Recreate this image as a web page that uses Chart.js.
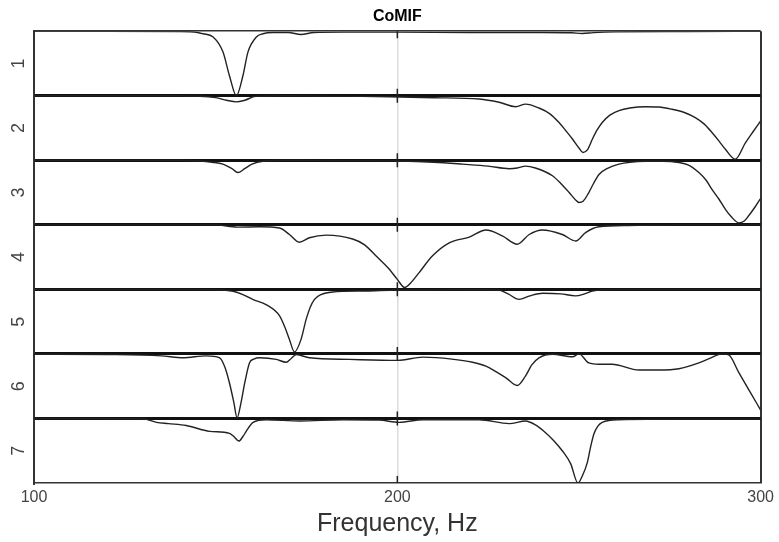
<!DOCTYPE html>
<html>
<head>
<meta charset="utf-8">
<script src="https://cdn.jsdelivr.net/npm/chart.js@4.4.1/dist/chart.umd.min.js"></script>
<style>
  body { margin: 0; background: #fff; }
  canvas { display: block; }
</style>
</head>
<body>
<canvas id="comif" width="779" height="542"></canvas>
<script>
// CoMIF curves, one per panel (frequency in Hz, normalised magnitude 0..1 inside the panel)
const freq1 = [100, 120, 140, 145, 146.5, 149.3, 152, 153.8, 155.7, 157.5, 158.9, 161.2, 163, 165.7, 170, 173.5, 177, 185, 200, 220, 240, 248, 250.9, 254, 260, 280, 300];
const mag1 = [1, 1, 0.995, 0.98, 0.96, 0.91, 0.68, 0.31, 0, 0.31, 0.68, 0.91, 0.96, 0.98, 0.98, 0.95, 0.98, 0.985, 0.985, 0.98, 0.98, 0.975, 0.965, 0.978, 0.99, 0.995, 1];

const freq2 = [100, 140, 150, 153, 155.7, 158, 161, 170, 190, 200.5, 210, 222.5, 228, 232.6, 235.3, 239, 242, 244.5, 246.5, 248.2, 250, 251.1, 252.3, 253.7, 255, 256.4, 258.5, 261, 264, 268.3, 272, 275.6, 279, 282, 284.5, 286.6, 288.5, 290.3, 293, 295.8, 298, 300];
const mag2 = [1, 1, 0.97, 0.93, 0.905, 0.93, 0.99, 1, 0.99, 0.98, 0.97, 0.95, 0.9, 0.83, 0.87, 0.81, 0.72, 0.585, 0.45, 0.33, 0.19, 0.12, 0.16, 0.33, 0.47, 0.585, 0.7, 0.77, 0.81, 0.83, 0.825, 0.79, 0.74, 0.66, 0.56, 0.43, 0.3, 0.17, 0.015, 0.27, 0.45, 0.61];

const freq3 = [100, 140, 145.6, 149, 152, 154.5, 156.1, 158, 160, 163, 170, 190, 200.5, 210, 218, 225, 230.8, 233, 235.3, 238, 242.7, 245, 247.3, 249, 250, 251.2, 252.7, 254, 255.5, 258, 261, 264, 268.3, 273, 277.5, 280, 283, 285, 286.6, 288.5, 290.3, 292, 294, 295.5, 296.7, 298.5, 300];
const mag3 = [1, 1, 0.99, 0.97, 0.94, 0.87, 0.81, 0.87, 0.94, 0.985, 1, 0.995, 0.99, 0.97, 0.94, 0.91, 0.87, 0.88, 0.91, 0.88, 0.76, 0.64, 0.5, 0.39, 0.345, 0.37, 0.5, 0.64, 0.78, 0.88, 0.94, 0.97, 0.985, 0.985, 0.965, 0.93, 0.81, 0.69, 0.55, 0.4, 0.24, 0.12, 0.03, 0.06, 0.14, 0.28, 0.41];

const freq4 = [100, 150, 156, 162, 167.6, 170.3, 173, 175.8, 180.4, 187.7, 191, 194.1, 197.5, 200, 202, 204, 206, 209.7, 214.3, 219.8, 224.4, 228.9, 233, 236.3, 239.9, 245.4, 249.1, 251.8, 255.5, 263.7, 280, 300];
const mag4 = [1, 1, 0.965, 0.97, 0.95, 0.85, 0.73, 0.8, 0.84, 0.78, 0.69, 0.52, 0.33, 0.155, 0.03, 0.12, 0.26, 0.52, 0.72, 0.81, 0.92, 0.83, 0.7, 0.85, 0.92, 0.85, 0.75, 0.88, 0.97, 0.99, 1, 1];

const freq5 = [100, 140, 150, 154.8, 157.5, 160.2, 164, 167.6, 169, 170.3, 171.7, 173.5, 174.9, 176, 177.2, 179, 182.2, 191.4, 200, 225, 228, 230.5, 233.5, 236.5, 240, 245, 249, 251.5, 253.7, 260, 300];
const mag5 = [1, 1, 0.995, 0.97, 0.92, 0.845, 0.76, 0.59, 0.42, 0.225, 0.03, 0.225, 0.535, 0.72, 0.845, 0.92, 0.96, 0.975, 0.99, 0.995, 0.99, 0.93, 0.845, 0.9, 0.94, 0.93, 0.9, 0.93, 0.975, 1, 1];

const freq6 = [100, 120, 135, 141, 147.4, 151.1, 152.5, 153.8, 155, 155.9, 157, 158, 159.3, 160.5, 162.1, 166.7, 169.4, 170.8, 172.2, 175.8, 186.8, 200.1, 207, 215, 220.7, 224.4, 227, 229.9, 233, 235.3, 237, 239, 242.7, 248.2, 250, 252.7, 255.5, 259.1, 266.5, 272, 277.5, 283, 286, 289.4, 291.2, 294, 297.2, 300];
const mag6 = [0.995, 0.99, 0.97, 0.94, 0.97, 0.94, 0.8, 0.55, 0.25, 0.01, 0.25, 0.55, 0.86, 0.92, 0.94, 0.915, 0.87, 0.93, 0.99, 0.94, 0.915, 0.9, 0.95, 0.92, 0.87, 0.81, 0.73, 0.63, 0.51, 0.66, 0.83, 0.94, 0.995, 0.955, 1, 0.86, 0.84, 0.84, 0.75, 0.75, 0.77, 0.86, 0.93, 1, 0.985, 0.71, 0.4, 0.13];

const freq7 = [100, 130, 133.7, 137, 141.9, 148.4, 153.8, 155, 156.4, 157.5, 158.4, 160.3, 163.9, 173.1, 185, 195, 200.5, 207, 222.5, 230.8, 235.3, 238, 240.8, 243, 245.4, 247.7, 249.7, 251, 252.3, 253.2, 254.1, 255.2, 256.4, 261, 280, 300];
const mag7 = [1, 0.995, 0.94, 0.92, 0.89, 0.8, 0.77, 0.72, 0.65, 0.72, 0.8, 0.94, 0.98, 0.96, 0.98, 0.975, 0.94, 0.98, 0.98, 0.92, 0.96, 0.9, 0.78, 0.66, 0.5, 0.3, 0, 0.12, 0.32, 0.56, 0.76, 0.88, 0.94, 0.98, 0.99, 0.99];

const panelLabels = ["1", "2", "3", "4", "5", "6", "7"];
const xTicks = [100, 200, 300];
const titleText = "CoMIF";
const xTitle = "Frequency, Hz";

const FONT = "'Liberation Sans', Arial, Helvetica, sans-serif";
const nPanels = panelLabels.length;
const freqs = [freq1, freq2, freq3, freq4, freq5, freq6, freq7];
const mags = [mag1, mag2, mag3, mag4, mag5, mag6, mag7];

// panel 1 sits on top: y from nPanels-1 to nPanels
const curveSets = freqs.map((f, i) => ({
  label: panelLabels[i],
  data: f.map((x, j) => ({ x: x, y: nPanels - 1 - i + mags[i][j] })),
  borderColor: "#222",
  borderWidth: 1.4,
  pointRadius: 0,
  cubicInterpolationMode: "monotone",
  fill: false,
}));

// small inward tick marks at the middle x tick, on every panel edge
const tickMarks = [];
for (let k = 0; k <= nPanels; k++) tickMarks.push({ x: xTicks[1], y: k });

const yTickValues = [];
for (let k = 0; k <= nPanels * 2; k++) yTickValues.push(k / 2);

new Chart(document.getElementById("comif"), {
  type: "line",
  data: {
    datasets: [
      ...curveSets,
      {
        type: "scatter",
        data: tickMarks,
        pointStyle: "line",
        rotation: 90,
        radius: 7,
        borderColor: "#222",
        borderWidth: 1.5,
        clip: 0,
      },
    ],
  },
  options: {
    responsive: false,
    animation: false,
    devicePixelRatio: 1,
    layout: { padding: { left: 0, right: 17, top: 0, bottom: 0 } },
    plugins: {
      legend: { display: false },
      tooltip: { enabled: false },
      title: {
        display: true,
        text: titleText,
        fullSize: false,
        color: "#000",
        font: { family: FONT, size: 16, weight: "bold" },
        padding: { top: 7, bottom: 5 },
      },
    },
    scales: {
      x: {
        type: "linear",
        min: 100,
        max: 300,
        afterBuildTicks: (axis) => {
          axis.ticks = xTicks.map((v) => ({ value: v }));
        },
        afterFit: (axis) => {
          axis.height = 59;
        },
        ticks: {
          color: "#444",
          padding: 5,
          autoSkip: false,
          maxRotation: 0,
          font: { family: FONT, size: 16 },
        },
        grid: {
          drawTicks: false,
          color: (ctx) => (ctx.tick && ctx.tick.value === xTicks[1] ? "#dcdcdc" : ctx.tick && ctx.tick.value === xTicks[2] ? "#333" : "rgba(0,0,0,0)"),
          lineWidth: (ctx) => (ctx.tick && ctx.tick.value === xTicks[1] ? 1.5 : 2),
        },
        border: { display: true, color: "#333", width: 1.5 },
        title: {
          display: true,
          text: xTitle,
          color: "#333",
          font: { family: FONT, size: 25 },
          padding: { top: 0, bottom: 3 },
        },
      },
      y: {
        type: "linear",
        min: 0,
        max: nPanels,
        afterBuildTicks: (axis) => {
          axis.ticks = yTickValues.map((v) => ({ value: v }));
        },
        afterFit: (axis) => {
          axis.width = 34;
        },
        ticks: {
          autoSkip: false,
          minRotation: 90,
          maxRotation: 90,
          crossAlign: "center",
          padding: 10,
          color: "#444",
          font: { family: FONT, size: 18 },
          callback: (v) => (Number.isInteger(v) ? "" : panelLabels[nPanels - 1 - Math.floor(v)]),
        },
        grid: {
          drawTicks: false,
          color: (ctx) => {
            const v = ctx.tick ? ctx.tick.value : 0;
            if (!Number.isInteger(v) || v === 0) return "rgba(0,0,0,0)";
            return v === nPanels ? "#333" : "#111";
          },
          lineWidth: (ctx) => {
            const v = ctx.tick ? ctx.tick.value : 0;
            return v === nPanels ? 1.5 : 3;
          },
        },
        border: { display: true, color: "#333", width: 2 },
      },
    },
  },
});
</script>
</body>
</html>
